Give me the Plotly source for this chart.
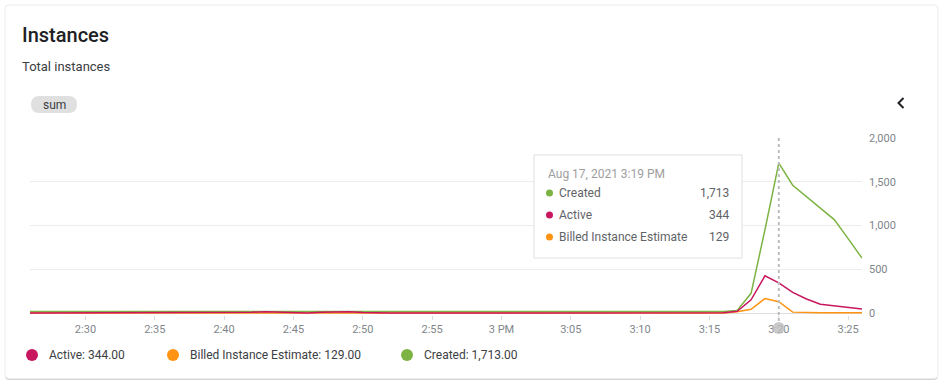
import plotly.graph_objects as go

# ---------------- data ----------------
times = [f"2021-08-17 14:{m:02d}" for m in range(26, 60)] + [f"2021-08-17 15:{m:02d}" for m in range(0, 27)]

created = [18, 18, 19, 18, 18, 17, 18, 18, 18, 18, 19, 18, 18, 18, 18, 18,
           18, 18, 17, 18, 18, 18, 18, 18, 18, 18, 18, 18, 18, 18, 18, 18,
           18, 18,
           18, 18, 18, 18, 18, 18, 18, 18, 18, 18, 18, 18, 18, 18, 18, 18,
           18, 30, 225, 950, 1713, 1460, 1330, 1195, 1067, 850, 627]

active = [0, 0, 0, 0, 0, 0, 0, 0, 0, 0, 0, 0, 0, 0, 0, 0,
          8, 15, 8, 1, 1, 8, 15, 14, 5, 0, 0, 0, 0, 0, 0, 0,
          0, 0,
          0, 0, 0, 0, 0, 0, 0, 0, 0, 0, 0, 0, 0, 0, 0, 0,
          4, 20, 150, 425, 344, 235, 160, 100, 80, 60, 45]

billed = [0] * 51 + [15, 42, 165, 129, 10, 3, 3, 3, 3, 3]

x_tickvals = ["2021-08-17 14:30", "2021-08-17 14:35", "2021-08-17 14:40", "2021-08-17 14:45",
              "2021-08-17 14:50", "2021-08-17 14:55", "2021-08-17 15:00", "2021-08-17 15:05",
              "2021-08-17 15:10", "2021-08-17 15:15", "2021-08-17 15:20", "2021-08-17 15:25"]
x_ticktext = ["2:30", "2:35", "2:40", "2:45", "2:50", "2:55", "3 PM", "3:05", "3:10", "3:15", "3:20", "3:25"]
y_tickvals = [0, 500, 1000, 1500, 2000]
y_ticktext = ["0", "500", "1,000", "1,500", "2,000"]

hover_index = 54  # 15:20 point
hover_label = "Aug 17, 2021 3:19 PM"

C_ACTIVE = "#c8175e"
C_BILLED = "#ff9312"
C_CREATED = "#7cb342"

W, H = 944, 384
FONT = "Roboto"


def px(x):
    return x / W


def py(y):
    return 1 - y / H


def rounded_rect(x0, y0, x1, y1, r):
    X0, X1 = px(x0), px(x1)
    Y0, Y1 = py(y0), py(y1)
    rx, ry = r / W, r / H
    return (f"M {X0+rx},{Y0} L {X1-rx},{Y0} Q {X1},{Y0} {X1},{Y0-ry} "
            f"L {X1},{Y1+ry} Q {X1},{Y1} {X1-rx},{Y1} L {X0+rx},{Y1} "
            f"Q {X0},{Y1} {X0},{Y1+ry} L {X0},{Y0-ry} Q {X0},{Y0} {X0+rx},{Y0} Z")


fig = go.Figure()
for name, vals, col in [("Created", created, C_CREATED), ("Billed Instance Estimate", billed, C_BILLED),
                        ("Active", active, C_ACTIVE)]:
    fig.add_trace(go.Scatter(x=times, y=vals, mode="lines", name=name,
                             line=dict(color=col, width=1.5), showlegend=False, hoverinfo="skip"))

shapes = []
# card shadow + card
shapes.append(dict(type="path", xref="paper", yref="paper", path=rounded_rect(5, 7, 938, 380, 4),
                   fillcolor="#d6d6d6", line=dict(width=0), layer="below"))
shapes.append(dict(type="path", xref="paper", yref="paper", path=rounded_rect(5, 5, 938, 378.5, 4),
                   fillcolor="white", line=dict(color="#ececec", width=1), layer="below"))
# sum chip
shapes.append(dict(type="path", xref="paper", yref="paper", path=rounded_rect(31, 96, 77, 113, 8.5),
                   fillcolor="#e0e0e0", line=dict(width=0), layer="below"))
# chevron
shapes.append(dict(type="path", xref="paper", yref="paper",
                   path=f"M {px(903.5)},{py(98)} L {px(898.5)},{py(103)} L {px(903.5)},{py(108)}",
                   line=dict(color="#202124", width=2)))
# hover vertical dashed line
hx = times[hover_index]
shapes.append(dict(type="line", xref="x", yref="paper", x0=hx, x1=hx, y0=py(138), y1=py(322),
                   line=dict(color="#bdbdbd", width=2, dash="3px,3px"), layer="above"))
shapes.append(dict(type="circle", xref="x", yref="paper", xsizemode="pixel", xanchor=hx,
                   x0=-6, x1=6, y0=py(334), y1=py(322),
                   fillcolor="rgba(189,189,189,0.8)", line=dict(width=0), layer="above"))
# tooltip box
shapes.append(dict(type="rect", xref="paper", yref="paper", x0=px(534), x1=px(742), y0=py(155), y1=py(258),
                   fillcolor="white", line=dict(color="#e0e0e0", width=1), layer="above"))

annotations = []


def txt(x, y, s, size, color, xanchor="left", weight=None):
    f = dict(family=FONT, size=size, color=color)
    if weight:
        f["weight"] = weight
    annotations.append(dict(xref="paper", yref="paper", x=px(x), y=py(y), text=s, showarrow=False,
                            xanchor=xanchor, yanchor="middle", font=f))


txt(20, 35, "Instances", 20, "#202124", weight=500)
txt(20, 67, "Total instances", 13, "#3c4043")
txt(54, 104.5, "sum", 12, "#3c4043", xanchor="center")

# tooltip contents
txt(546, 174, hover_label, 12, "#9e9e9e")
rows = [("Created", created, C_CREATED), ("Active", active, C_ACTIVE),
        ("Billed Instance Estimate", billed, C_BILLED)]
for i, (name, vals, col) in enumerate(rows):
    y = 193 + i * 22
    shapes.append(dict(type="circle", xref="paper", yref="paper", x0=px(546), x1=px(553), y0=py(y + 3.5),
                       y1=py(y - 3.5), fillcolor=col, line=dict(width=0), layer="above"))
    txt(557, y, name, 12, "#5f6368")
    txt(731, y, f"{vals[hover_index]:,}", 12, "#5f6368", xanchor="right")

# bottom legend
leg = [("Active", active, C_ACTIVE, 32), ("Billed Instance Estimate", billed, C_BILLED, 173),
       ("Created", created, C_CREATED, 407)]
for name, vals, col, x in leg:
    shapes.append(dict(type="circle", xref="paper", yref="paper", x0=px(x - 6), x1=px(x + 6),
                       y0=py(361), y1=py(349), fillcolor=col, line=dict(width=0)))
    txt(x + 14.5, 355, f"{name}: {vals[hover_index]:,.2f}", 12, "#3c4043")

fig.update_layout(
    width=W, height=H, margin=dict(l=0, r=0, t=0, b=0, pad=0, autoexpand=False),
    paper_bgcolor="white", plot_bgcolor="rgba(0,0,0,0)",
    font=dict(family=FONT),
    shapes=shapes, annotations=annotations, showlegend=False,
    xaxis=dict(domain=[px(30), px(862)], range=[times[0], times[-1]], type="date",
               tickvals=x_tickvals, ticktext=x_ticktext, showgrid=False, zeroline=False,
               ticks="outside", ticklen=4, tickcolor="#dadce0", automargin=False,
               tickfont=dict(family=FONT, size=11, color="#80868b"), fixedrange=True),
    yaxis=dict(domain=[py(314.75), py(138)], range=[-20, 2000], side="right",
               tickvals=y_tickvals, ticktext=y_ticktext, showgrid=True, gridcolor="#ececec",
               gridwidth=1, zeroline=True, zerolinecolor="#dadce0", zerolinewidth=1,
               tickfont=dict(family=FONT, size=11, color="#80868b"), ticklabelstandoff=6,
               automargin=False, fixedrange=True),
)

fig.write_html("out.html", config={"displayModeBar": False},
               post_script="document.body.style.margin='0';document.body.style.overflow='hidden';")
